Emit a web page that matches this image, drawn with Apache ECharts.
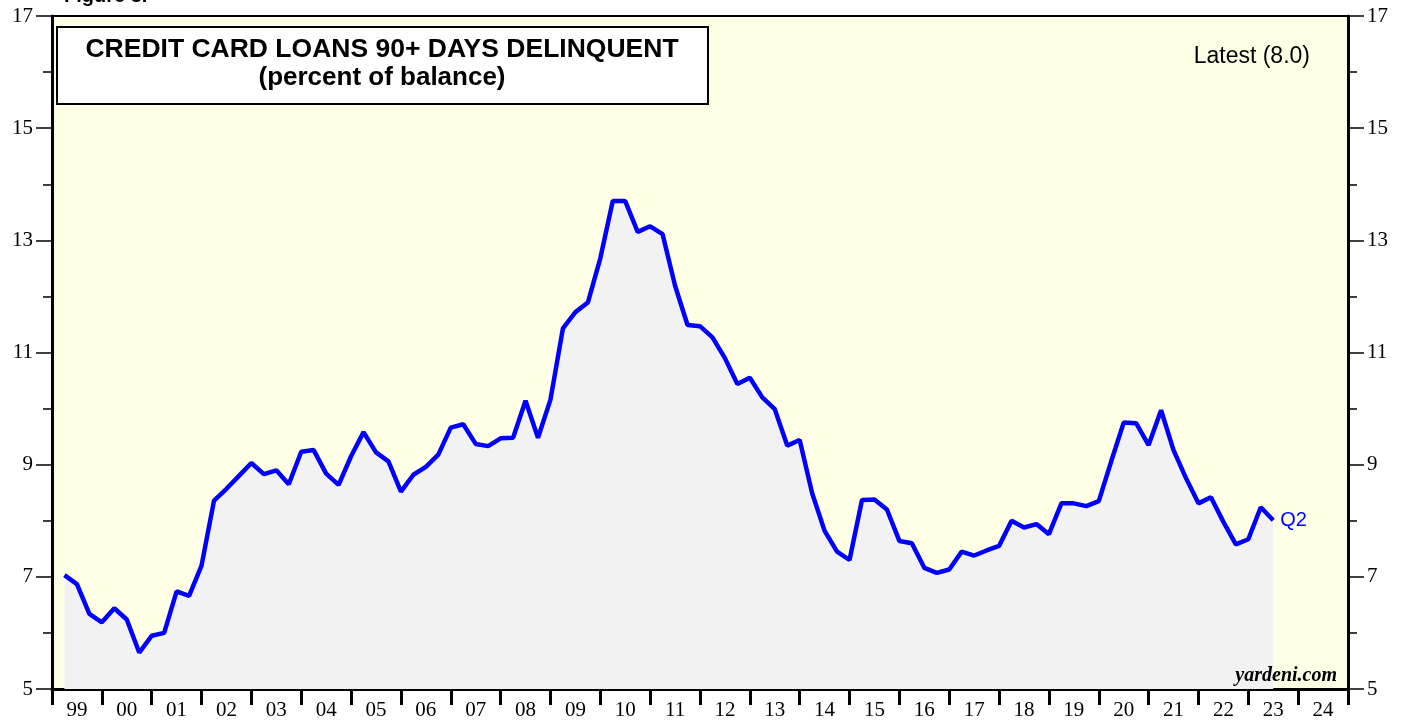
<!DOCTYPE html>
<html>
<head>
<meta charset="utf-8">
<script src="https://cdn.jsdelivr.net/npm/echarts@6/dist/echarts.min.js"></script>
<style>
html,body{margin:0;padding:0;background:#fff;}
#c{width:1407px;height:721px;}
</style>
</head>
<body>
<div id="c"></div>
<script>
// ---- data ----
const firstYear = 1999;
const values = [
  7.03, 6.87, 6.34, 6.19,   // 1999
  6.44, 6.24, 5.65, 5.95,   // 2000
  6.00, 6.74, 6.66, 7.20,   // 2001
  8.36, 8.57, 8.80, 9.03,   // 2002
  8.83, 8.90, 8.65, 9.23,   // 2003
  9.26, 8.84, 8.64, 9.15,   // 2004
  9.58, 9.22, 9.06, 8.52,   // 2005
  8.82, 8.96, 9.18, 9.66,   // 2006
  9.72, 9.37, 9.33, 9.47,   // 2007
  9.48, 10.14, 9.48, 10.16, // 2008
  11.43, 11.72, 11.89, 12.68, // 2009
  13.70, 13.70, 13.15, 13.25, // 2010
  13.11, 12.19, 11.49, 11.47, // 2011
  11.27, 10.90, 10.44, 10.55, // 2012
  10.20, 9.99, 9.34, 9.44,  // 2013
  8.49, 7.82, 7.45, 7.30,   // 2014
  8.37, 8.38, 8.20, 7.64,   // 2015
  7.60, 7.16, 7.07, 7.13,   // 2016
  7.45, 7.38, 7.47, 7.55,   // 2017
  8.00, 7.88, 7.94, 7.76,   // 2018
  8.31, 8.31, 8.26, 8.35,   // 2019
  9.06, 9.75, 9.74, 9.35,   // 2020
  9.97, 9.26, 8.76, 8.31,   // 2021
  8.42, 7.98, 7.58, 7.67,   // 2022
  8.24, 8.01                // 2023
];
// quarter categories, e.g. "1999Q1"
const quarters = values.map((_, i) => (firstYear + Math.floor(i / 4)) + 'Q' + (i % 4 + 1));
const yTicks = [5, 7, 9, 11, 13, 15, 17];
const yearTicks = [1999,2000,2001,2002,2003,2004,2005,2006,2007,2008,2009,2010,2011,2012,2013,2014,2015,2016,2017,2018,2019,2020,2021,2022,2023,2024,2025];
const yearLabels = ['99','00','01','02','03','04','05','06','07','08','09','10','11','12','13','14','15','16','17','18','19','20','21','22','23','24'];
const latestLabel = 'Latest (8.0)';
const lastQuarterLabel = 'Q2';

// quarter -> decimal year position (quarter end)
function qPos(q) { const y = +q.slice(0, 4), n = +q.slice(5); return y + n * 0.25; }
const seriesData = quarters.map((q, i) => [qPos(q), values[i]]);
const labelPos = yearLabels.map((_, i) => yearTicks[i] + 0.5);

const chart = echarts.init(document.getElementById('c'));
const serif = '"Liberation Serif", "Times New Roman", serif';
const sans = '"Liberation Sans", Arial, Helvetica, sans-serif';

const yCommon = {
  type: 'value', min: 5, max: 17, interval: 2,
  axisLine: { show: true, lineStyle: { color: '#000', width: 3 } },
  axisTick: { show: true, length: 16, lineStyle: { color: '#000', width: 1.5 } },
  minorTick: { show: true, splitNumber: 2, length: 9, lineStyle: { color: '#000', width: 1.5 } },
  splitLine: { show: false },
  axisLabel: { color: '#000', fontFamily: serif, fontSize: 21, margin: 19,
    customValues: yTicks }
};

chart.setOption({
  animation: false,
  backgroundColor: '#fff',
  grid: { left: 52, right: 59, top: 16, bottom: 32, show: true,
    backgroundColor: '#FFFFE6', borderColor: '#000', borderWidth: 2 },
  xAxis: {
    type: 'value', min: 1999, max: 2025,
    axisLine: { show: true, onZero: false, lineStyle: { color: '#000', width: 3 } },
    axisTick: { show: true, length: 16, customValues: yearTicks, lineStyle: { color: '#000', width: 3 } },
    axisLabel: { show: true, customValues: labelPos, color: '#000', fontFamily: serif, fontSize: 21, margin: 11,
      formatter: v => yearLabels[Math.round(v - 0.5) - firstYear] },
    splitLine: { show: false }
  },
  yAxis: [
    Object.assign({}, yCommon, { position: 'left' }),
    Object.assign({}, yCommon, { position: 'right' })
  ],
  series: [{
    type: 'line',
    data: seriesData,
    yAxisIndex: 0,
    symbol: 'none',
    lineStyle: { color: '#0000FF', width: 4.5 },
    itemStyle: { color: '#0000FF' },
    areaStyle: { color: '#F2F2F2', opacity: 1, origin: 'start' },
    endLabel: { show: true, formatter: lastQuarterLabel, color: '#0000FF', fontFamily: sans, fontSize: 20, distance: 7 },
    z: 3
  }],
  graphic: [
    { type: 'text', left: 64, top: -14, style: { text: 'Figure 3.', font: 'bold 20px ' + sans, fill: '#000' } },
    { type: 'rect', shape: { x: 57, y: 27, width: 651, height: 77 },
      style: { fill: '#fff', stroke: '#000', lineWidth: 2 }, z: 10 },
    { type: 'text', x: 382, y: 50, z: 11,
      style: { text: 'CREDIT CARD LOANS 90+ DAYS DELINQUENT', font: 'bold 26.5px ' + sans, fill: '#000', align: 'center', verticalAlign: 'middle' } },
    { type: 'text', x: 382, y: 78, z: 11,
      style: { text: '(percent of balance)', font: 'bold 26px ' + sans, fill: '#000', align: 'center', verticalAlign: 'middle' } },
    { type: 'text', x: 1310, y: 57, z: 11,
      style: { text: latestLabel, font: '23px ' + sans, fill: '#000', align: 'right', verticalAlign: 'middle' } },
    { type: 'text', x: 1337, y: 676, z: 11,
      style: { text: 'yardeni.com', font: 'italic bold 20px ' + serif, fill: '#000', align: 'right', verticalAlign: 'middle' } }
  ]
});
</script>
</body>
</html>
